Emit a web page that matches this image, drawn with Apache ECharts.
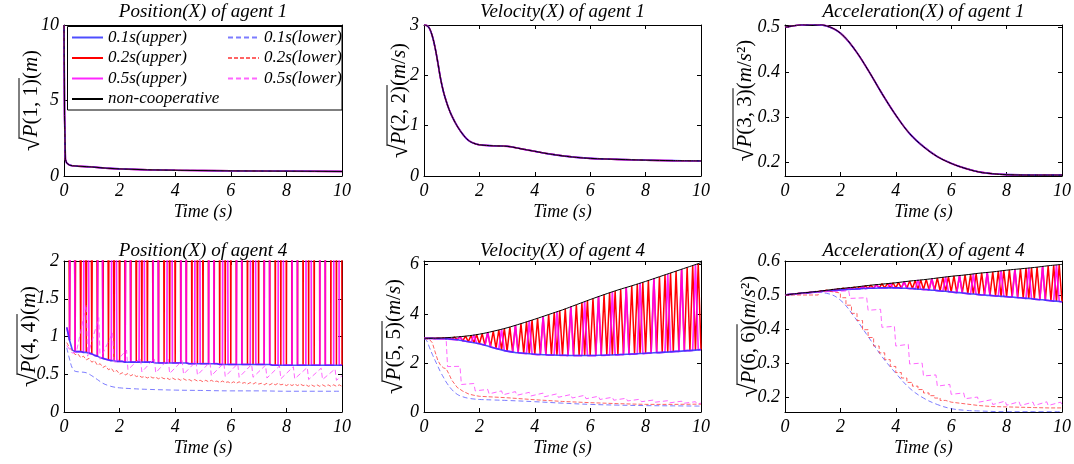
<!DOCTYPE html>
<html><head><meta charset="utf-8">
<script src="https://cdn.jsdelivr.net/npm/echarts@6/dist/echarts.min.js"></script>
<style>html,body{margin:0;padding:0;background:#fff}#c{width:1074px;height:464px}</style>
</head><body><div id="c"></div>
<script>
// ---------------- DATA ----------------
const titles = ['Position(X) of agent 1','Velocity(X) of agent 1','Acceleration(X) of agent 1',
                'Position(X) of agent 4','Velocity(X) of agent 4','Acceleration(X) of agent 4'];
const xTickVals = [0,2,4,6,8,10];
const yTickVals = [[0,5,10],[0,1,2,3],[0.2,0.3,0.4,0.5],[0,0.5,1,1.5,2],[0,2,4,6],[0.2,0.3,0.4,0.5,0.6]];
const yRanges = [[0,10],[0,3],[0.17,0.505],[0,2],[0,6.15],[0.156,0.6]];
const upperNames = ['0.1s(upper)','0.2s(upper)','0.5s(upper)','non-cooperative'];
const lowerNames = ['0.1s(lower)','0.2s(lower)','0.5s(lower)'];

// agent 1 (all strategies coincide)
const pos1T = [0,0.02,0.05,0.1,0.15,0.2,0.3,0.5,0.8,1.0,1.5,2,3,4,5,6,7,8,9,10];
const pos1V = [10,4,1.1,0.85,0.76,0.72,0.68,0.65,0.62,0.6,0.52,0.47,0.41,0.38,0.36,0.34,0.33,0.32,0.31,0.3];
const vel1T = [0,0.1,0.2,0.3,0.4,0.5,0.6,0.7,0.8,0.9,1.0,1.2,1.4,1.6,1.8,2.0,2.5,3.0,3.5,4,4.5,5,5.5,6,7,8,9,10];
const vel1V = [3.0,2.99,2.93,2.78,2.55,2.25,1.93,1.68,1.49,1.33,1.2,0.99,0.83,0.71,0.65,0.62,0.6,0.59,0.54,0.49,0.44,0.4,0.37,0.35,0.33,0.315,0.305,0.30];
const acc1T = [0,0.5,1,1.5,2,2.5,3,3.5,4,4.5,5,5.5,6,6.5,7,7.5,8,9,10];
const acc1V = [0.5,0.505,0.507,0.503,0.487,0.452,0.405,0.353,0.305,0.264,0.235,0.213,0.198,0.187,0.179,0.175,0.173,0.172,0.172];

// agent 4 - position (samples t = 0.1 ... 10.0)
const pos4Up01 = [1.12,0.95,0.82,0.80,0.80,0.80,0.79,0.79,0.78,0.77,
 0.75,0.74,0.72,0.71,0.70,0.69,0.68,0.68,0.67,0.67,
 0.67,0.66,0.66,0.66,0.66,0.66,0.66,0.66,0.66,0.66,
 0.66,0.66,0.65,0.65,0.65,0.65,0.65,0.65,0.65,0.65,
 0.65,0.65,0.65,0.65,0.64,0.64,0.64,0.64,0.64,0.64,
 0.64,0.64,0.64,0.64,0.64,0.63,0.63,0.63,0.63,0.63,
 0.63,0.63,0.63,0.63,0.63,0.63,0.63,0.63,0.63,0.63,
 0.63,0.63,0.63,0.63,0.62,0.62,0.62,0.62,0.62,0.62,
 0.62,0.62,0.62,0.62,0.62,0.62,0.62,0.62,0.62,0.62,
 0.62,0.62,0.62,0.62,0.62,0.62,0.62,0.62,0.62,0.62];
const pos4Up02Peaks = [7.6,7.9,8.3,8.6,8.9,9.3,9.6,9.9,10.3,10.6,10.9,11.3,11.6,11.9,12.3,12.6,12.9,13.3,13.6,13.9,
 14.3,14.6,14.9,15.3,15.6,15.9,16.3,16.6,16.9,17.3,17.6,17.9,18.3,18.6,18.9,19.3,19.6,19.9,20.3,20.6,
 20.9,21.3,21.6,21.9,22.3,22.6,22.9,23.3,23.6,23.9];
const pos4Up05Peaks = [9.2,10.1,11.0,11.9,12.8,13.7,14.6,15.5,16.4,17.3,18.2,19.1,20.0,20.9,21.8,22.7,23.6,24.5,25.4,26.3];
const pos4Lo01T = [0.1,0.2,0.3,0.4,0.6,0.8,1.0,1.2,1.4,1.6,1.8,2.0,2.4,3,4,5,6,7,8,9,10];
const pos4Lo01V = [0.85,0.70,0.58,0.54,0.53,0.52,0.48,0.43,0.38,0.35,0.33,0.32,0.31,0.30,0.29,0.285,0.28,0.28,0.275,0.275,0.275];
const pos4Lo02 = [0.92,0.85,0.81,0.76,0.77,0.72,0.74,0.69,0.71,0.66,
 0.68,0.62,0.64,0.59,0.61,0.56,0.58,0.53,0.55,0.50,
 0.52,0.49,0.51,0.48,0.50,0.47,0.48,0.46,0.47,0.45,
 0.47,0.45,0.46,0.44,0.46,0.44,0.45,0.43,0.45,0.43,
 0.44,0.42,0.44,0.42,0.43,0.41,0.43,0.41,0.42,0.40,
 0.42,0.40,0.42,0.40,0.41,0.39,0.41,0.39,0.40,0.38,
 0.40,0.38,0.40,0.38,0.39,0.37,0.39,0.37,0.39,0.37,
 0.38,0.36,0.38,0.36,0.38,0.36,0.38,0.36,0.37,0.35,
 0.37,0.35,0.37,0.35,0.37,0.35,0.36,0.34,0.36,0.34,
 0.36,0.34,0.36,0.34,0.36,0.34,0.36,0.34,0.36,0.34];
const pos4Lo05T = [0.1,0.3,0.45,0.8,0.85,1.25,1.3,1.75,1.8,2.25,2.3,2.75,2.8,3.25,3.3,3.75,3.8,4.25,4.3,4.75,4.8,
 5.25,5.3,5.75,5.8,6.25,6.3,6.75,6.8,7.25,7.3,7.75,7.8,8.25,8.3,8.75,8.8,9.25,9.3,9.75,9.8,10];
const pos4Lo05V = [0.88,0.78,0.80,1.42,0.74,1.25,0.70,1.05,0.64,0.82,0.56,0.72,0.53,0.71,0.52,0.70,0.51,0.68,0.50,0.67,0.49,
 0.66,0.48,0.65,0.47,0.64,0.46,0.63,0.46,0.62,0.45,0.61,0.44,0.60,0.44,0.59,0.43,0.58,0.43,0.57,0.42,0.48];

// agent 4 - velocity (samples t = 0.0 ... 10.0)
const vel4Up01 = [3.00,3.00,3.00,3.00,2.99,2.99,2.99,2.98,2.98,2.97,
 2.96,2.95,2.94,2.92,2.90,2.88,2.86,2.84,2.82,2.80,
 2.78,2.75,2.72,2.69,2.65,2.62,2.59,2.56,2.53,2.50,
 2.48,2.46,2.44,2.42,2.41,2.40,2.39,2.38,2.37,2.36,
 2.35,2.34,2.34,2.33,2.33,2.32,2.32,2.32,2.31,2.31,
 2.31,2.31,2.30,2.30,2.30,2.30,2.30,2.30,2.30,2.30,
 2.30,2.30,2.30,2.31,2.31,2.31,2.32,2.32,2.32,2.33,
 2.33,2.34,2.34,2.35,2.35,2.36,2.36,2.37,2.38,2.38,
 2.39,2.40,2.40,2.41,2.42,2.42,2.43,2.44,2.44,2.45,
 2.46,2.47,2.47,2.48,2.49,2.50,2.50,2.51,2.52,2.53,2.54];
const vel4Up02Peaks = [3.00,3.00,3.01,3.02,3.03,3.05,3.07,3.09,3.12,3.15,3.19,3.24,3.29,3.34,3.40,3.46,3.53,3.60,3.67,3.74,
 3.82,3.89,3.97,4.05,4.12,4.20,4.29,4.37,4.45,4.54,4.62,4.70,4.78,4.86,4.93,5.00,5.07,5.14,5.21,5.28,
 5.36,5.44,5.51,5.59,5.66,5.74,5.81,5.89,5.97,6.04];
const vel4Up05Peaks = [3.00,3.02,3.07,3.14,3.24,3.37,3.53,3.71,3.89,4.08,4.29,4.50,4.70,4.89,5.07,5.25,5.44,5.62,5.81,6.00];
const tHalf = [0,0.5,1,1.5,2,2.5,3,3.5,4,4.5,5,5.5,6,6.5,7,7.5,8,8.5,9,9.5,10];
const vel4NonCoop = [3.00,3.01,3.04,3.09,3.17,3.29,3.43,3.60,3.78,3.97,4.16,4.37,4.58,4.78,4.97,5.14,5.32,5.51,5.70,5.89,6.08];
const vel4Lo01T = [0,0.1,0.2,0.3,0.4,0.5,0.6,0.7,0.8,1.0,1.2,1.4,1.6,1.8,2.0,2.5,3,4,5,6,7,8,9,10];
const vel4Lo01V = [3.0,2.9,2.62,2.35,2.1,1.86,1.62,1.42,1.22,0.92,0.72,0.62,0.56,0.53,0.51,0.49,0.47,0.42,0.36,0.31,0.28,0.26,0.25,0.24];
const vel4Lo02T = [0,0.2,0.3,0.4,0.5,0.6,0.7,0.8,0.9,1.0,1.1,1.2,1.4,1.6,1.8,2.0,2.5,3,4,5,6,7,8,9,10];
const vel4Lo02V = [3.0,2.95,2.82,2.45,2.1,1.9,1.8,1.76,1.55,1.3,1.15,1.0,0.85,0.74,0.68,0.64,0.61,0.58,0.5,0.43,0.38,0.34,0.31,0.31,0.32];
const vel4Lo05T = [0,0.8,0.85,1.3,1.35,1.8,1.85,2.3,2.35,2.8,2.85,3.3,3.35,3.8,3.85,4.3,4.35,4.8,4.85,5.3,5.35,5.8,5.85,
 6.3,6.35,6.8,6.85,7.3,7.35,7.8,7.85,8.3,8.35,8.8,8.85,9.3,9.35,9.8,9.85,10];
const vel4Lo05V = [3.0,2.96,1.85,1.86,1.12,1.16,0.86,0.92,0.74,0.86,0.70,0.83,0.68,0.80,0.65,0.77,0.62,0.74,0.60,0.71,0.57,0.68,0.54,
 0.64,0.51,0.60,0.48,0.56,0.45,0.52,0.42,0.49,0.40,0.46,0.37,0.44,0.35,0.42,0.33,0.36];

// agent 4 - acceleration (samples t = 0.0 ... 10.0)
const acc4Up01 = [.500,.501,.502,.502,.503,.504,.505,.506,.506,.507,
 .508,.509,.509,.510,.511,.511,.512,.513,.513,.514,
 .515,.515,.516,.516,.517,.517,.518,.518,.519,.519,
 .520,.520,.520,.520,.521,.521,.521,.521,.521,.521,
 .521,.521,.520,.520,.520,.519,.519,.518,.517,.517,
 .516,.516,.515,.514,.514,.513,.512,.511,.511,.510,
 .509,.508,.507,.507,.506,.505,.504,.503,.503,.502,
 .501,.500,.500,.499,.499,.498,.497,.497,.496,.496,
 .495,.494,.494,.493,.492,.492,.491,.490,.490,.489,
 .488,.487,.486,.486,.485,.484,.483,.482,.482,.481,.480];
const acc4Up02Peaks = [.501,.503,.505,.507,.508,.510,.512,.514,.516,.518,.520,.522,.523,.525,.527,.529,.531,.533,.534,.536,
 .537,.539,.541,.543,.544,.546,.548,.550,.552,.554,.556,.557,.559,.561,.563,.565,.566,.568,.570,.572,
 .574,.575,.577,.579,.580,.582,.584,.586,.587,.589];
const acc4Up05Peaks = [.503,.507,.512,.516,.521,.525,.530,.535,.539,.544,.548,.553,.558,.562,.566,.571,.575,.580,.584,.588];
const acc4NonCoop = [.500,.505,.509,.514,.519,.523,.528,.532,.536,.541,.545,.550,.555,.559,.564,.568,.573,.577,.581,.586,.590];
const acc4Lo01T = [0,1.0,1.5,2.0,2.5,3.0,3.5,4.0,4.5,5.0,5.5,6.0,6.5,7,8,9,10];
const acc4Lo01V = [0.5,0.508,0.505,0.485,0.436,0.378,0.319,0.27,0.226,0.197,0.178,0.166,0.161,0.159,0.157,0.157,0.157];
const acc4Lo02T = [0,1.2,1.6,2.0,2.2,2.4,2.6,2.8,3.0,3.2,3.4,3.6,3.8,4.0,4.2,4.4,4.6,4.8,5.0,5.2,5.4,5.6,5.8,6.0,6.5,7,7.5,8,8.5,9,9.5,10];
const acc4Lo02V = [0.5,0.511,0.506,0.492,0.47,0.446,0.425,0.398,0.375,0.35,0.33,0.31,0.29,0.272,0.256,0.243,0.232,0.222,0.212,0.204,0.197,0.19,0.185,0.18,0.175,0.172,0.171,0.17,0.169,0.168,0.168,0.167];
const acc4Lo05T = [0,1.0,2.3,2.35,2.95,3.0,3.45,3.5,3.95,4.0,4.45,4.5,4.95,5.0,5.45,5.5,5.95,6.0,6.45,6.5,6.95,7.0,7.45,7.5,7.95,8.0,8.45,8.5,8.95,9.0,9.45,9.5,9.95,10];
const acc4Lo05V = [0.5,0.508,0.512,0.49,0.492,0.455,0.458,0.405,0.408,0.35,0.355,0.297,0.3,0.262,0.265,0.232,0.237,0.208,0.212,0.195,0.2,0.185,0.192,0.178,0.188,0.176,0.186,0.175,0.185,0.175,0.186,0.175,0.185,0.178];

// ---------------- BUILD ----------------
const FF = 'Liberation Serif';
const grids = [
  {left:64, top:25, width:278, height:151}, {left:424, top:25, width:277, height:151}, {left:785, top:25, width:277, height:151},
  {left:64, top:261, width:278, height:151}, {left:424, top:261, width:277, height:151}, {left:785, top:261, width:277, height:151}
];
const ST = {
  blueU:{color:'#2f2fff', width:1.6, opacity:0.85},
  redU:{color:'#ff0000', width:1.5},
  magU:{color:'#ff00ff', width:1.7, opacity:0.85},
  blueL:{color:'#5050ff', width:1, type:[5,3], opacity:0.75},
  redL:{color:'#ff3030', width:1, type:[4,2], opacity:0.75},
  magL:{color:'#ff40ff', width:1, type:[5,3], opacity:0.8},
  black:{color:'#000000', width:1}
};
const pair = (T,V) => T.map((t,i)=>[t,V[i]]);
const t101 = Array.from({length:101},(_,i)=>i/10);
const t100 = Array.from({length:100},(_,i)=>(i+1)/10);
function spiky(times, base, peaks, idx){
  const out = times.map((t,i)=>[t, base[i]]);
  idx.forEach((j,k)=>{ out[j] = [times[j], peaks[k]]; });
  return out;
}
const idxOdd = []; for (let j=1;j<101;j+=2) idxOdd.push(j);
const idxHalf = []; for (let j=3;j<101;j+=5) idxHalf.push(j);
const idxEvenP = []; for (let j=0;j<100;j+=2) idxEvenP.push(j);
const idxHalfP = []; for (let j=2;j<100;j+=5) idxHalfP.push(j);

function L(name, g, data, st, extra){
  return Object.assign({type:'line', name, xAxisIndex:2*g, yAxisIndex:2*g, data, symbol:'none', showSymbol:false,
    silent:true, animation:false, clip:true, itemStyle:{color:st.color}, lineStyle:Object.assign({},st),
    emphasis:{disabled:true}}, extra||{});
}
const SM = {smooth:0.4};
const series = [];
// agent 1 panels
[[pair(pos1T,pos1V),false],[pair(vel1T,vel1V),true],[pair(acc1T,acc1V),true]].forEach(([d,sm],g)=>{
  const ex = sm ? SM : {};
  series.push(L('0.2s(upper)',g,d,ST.redU,ex), L('0.5s(upper)',g,d,ST.magU,ex), L('0.1s(upper)',g,d,ST.blueU,ex),
    L('0.1s(lower)',g,d,ST.blueL,ex), L('0.2s(lower)',g,d,ST.redL,ex), L('0.5s(lower)',g,d,ST.magL,ex),
    L('non-cooperative',g,d,ST.black,ex));
});
// agent 4 position
series.push(
  L('0.2s(upper)',3,spiky(t100,pos4Up01,pos4Up02Peaks,idxEvenP),ST.redU),
  L('0.5s(upper)',3,spiky(t100,pos4Up01,pos4Up05Peaks,idxHalfP),ST.magU),
  L('0.1s(upper)',3,pair(t100,pos4Up01),ST.blueU),
  L('0.1s(lower)',3,pair(pos4Lo01T,pos4Lo01V),ST.blueL,SM),
  L('0.2s(lower)',3,pair(t100,pos4Lo02),ST.redL),
  L('0.5s(lower)',3,pair(pos4Lo05T,pos4Lo05V),ST.magL)
);
// agent 4 velocity
series.push(
  L('0.2s(upper)',4,spiky(t101,vel4Up01,vel4Up02Peaks,idxOdd),ST.redU),
  L('0.5s(upper)',4,spiky(t101,vel4Up01,vel4Up05Peaks,idxHalf),ST.magU),
  L('0.1s(upper)',4,pair(t101,vel4Up01),ST.blueU),
  L('0.1s(lower)',4,pair(vel4Lo01T,vel4Lo01V),ST.blueL,SM),
  L('0.2s(lower)',4,pair(vel4Lo02T,vel4Lo02V),ST.redL),
  L('0.5s(lower)',4,pair(vel4Lo05T,vel4Lo05V),ST.magL),
  L('non-cooperative',4,pair(tHalf,vel4NonCoop),ST.black,SM)
);
// agent 4 acceleration
series.push(
  L('0.2s(upper)',5,spiky(t101,acc4Up01,acc4Up02Peaks,idxOdd),ST.redU),
  L('0.5s(upper)',5,spiky(t101,acc4Up01,acc4Up05Peaks,idxHalf),ST.magU),
  L('0.1s(upper)',5,pair(t101,acc4Up01),ST.blueU),
  L('0.1s(lower)',5,pair(acc4Lo01T,acc4Lo01V),ST.blueL,SM),
  L('0.2s(lower)',5,pair(acc4Lo02T,acc4Lo02V),ST.redL,{step:'end'}),
  L('0.5s(lower)',5,pair(acc4Lo05T,acc4Lo05V),ST.magL),
  L('non-cooperative',5,pair(tHalf,acc4NonCoop),ST.black,SM)
);

const labelFont = {color:'#000', fontFamily:FF, fontStyle:'italic', fontSize:18};
const axLine = {show:true, onZero:false, lineStyle:{color:'#000', width:1}};
const xAxes = [], yAxes = [];
grids.forEach((gr,g)=>{
  const tick = {show:true, inside:true, length:4, lineStyle:{color:'#000', width:1}, customValues:xTickVals};
  xAxes.push({gridIndex:g, type:'value', min:0, max:10, position:'bottom', axisLine:axLine, axisTick:tick,
    axisLabel:Object.assign({show:true, margin:6, customValues:xTickVals}, labelFont), splitLine:{show:false},
    name:'Time (s)', nameLocation:'middle', nameGap:27,
    nameTextStyle:{color:'#000', fontFamily:FF, fontStyle:'italic', fontSize:18}});
  xAxes.push({gridIndex:g, type:'value', min:0, max:10, position:'top', axisLine:axLine, axisTick:tick,
    axisLabel:{show:false, customValues:xTickVals}, splitLine:{show:false}});
  const yt = yTickVals[g];
  const ytick = {show:true, inside:true, length:4, lineStyle:{color:'#000', width:1}, customValues:yt};
  yAxes.push({gridIndex:g, type:'value', min:yRanges[g][0], max:yRanges[g][1], position:'left', axisLine:axLine,
    axisTick:ytick, axisLabel:Object.assign({show:true, margin:5, customValues:yt}, labelFont), splitLine:{show:false}});
  yAxes.push({gridIndex:g, type:'value', min:yRanges[g][0], max:yRanges[g][1], position:'right', axisLine:axLine,
    axisTick:ytick, axisLabel:{show:false, customValues:yt}, splitLine:{show:false}});
});

// text measuring for the sqrt label overline
const mctx = document.createElement('canvas').getContext('2d');
function tw(s, font){ mctx.font = font; return mctx.measureText(s).width; }
function yLabel(cx, cy, k, unit){
  const fs = 21, rfs = 25;
  const fN = fs + 'px "' + FF + '"', fI = 'italic ' + fN;
  const wR = tw('\u221A', rfs + 'px "' + FF + '"');
  const arg = '(' + k + ', ' + k + ')';
  const wP = tw('P', fI) + tw(arg, fN);
  let wU = 0; unit.forEach(([s,it])=>{ wU += tw(s, it ? fI : fN); });
  const total = wR + wP + wU, x0 = -total/2;
  const rich = '{i|P}{n|' + arg + '}' + unit.map(([s,it])=>'{' + (it?'i':'n') + '|' + s + '}').join('');
  const ov = Math.round(fs*0.56);
  return {type:'group', x:cx, y:cy, rotation:Math.PI/2, silent:true, children:[
    {type:'text', x:x0, y:1, style:{text:'\u221A', font: rfs + 'px "' + FF + '"', fill:'#000',
      align:'left', verticalAlign:'middle', textAlign:'left', textVerticalAlign:'middle'}},
    {type:'text', x:x0+wR, y:0, style:{text:rich, fill:'#000', align:'left', verticalAlign:'middle', textAlign:'left', textVerticalAlign:'middle',
      rich:{i:{fontStyle:'italic', fontSize:fs, fontFamily:FF, fill:'#000'}, n:{fontSize:fs, fontFamily:FF, fill:'#000'}}}},
    {type:'line', shape:{x1:x0+wR-1.5, y1:-ov, x2:x0+wR+wP+1, y2:-ov}, style:{stroke:'#000', lineWidth:1}}
  ]};
}
const unitM = [['(',0],['m',1],[')',0]];
const unitMS = [['(',0],['m',1],['/',0],['s',1],[')',0]];
const unitMS2 = [['(',0],['m',1],['/',0],['s',1],['\u00B2)',0]];
const graphics = [];
const labelX = [31, 399, 745, 29, 394, 749];
const units = [unitM, unitMS, unitMS2, unitM, unitMS, unitMS2];
grids.forEach((gr,g)=>{
  graphics.push({type:'text', x: gr.left + gr.width/2, y: g<3 ? 12 : 251, silent:true,
    style:{text:titles[g], font:'italic 19px "' + FF + '"', fill:'#000', align:'center', verticalAlign:'middle',
      textAlign:'center', textVerticalAlign:'middle'}});
  graphics.push(yLabel(labelX[g], gr.top + gr.height/2, g+1, units[g]));
});
graphics.push({type:'rect', z:5, silent:true, shape:{x:67.5, y:26.5, width:274.5, height:83.5},
  style:{fill:'#fff', stroke:'#000', lineWidth:1}});

const legendText = {fontFamily:FF, fontStyle:'italic', fontSize:17, color:'#000', lineHeight:17};
const legendCommon = {orient:'vertical', top:29, itemWidth:31, itemHeight:14, itemGap:3.5, padding:0,
  selectedMode:false, z:10, itemStyle:{opacity:0}, textStyle:legendText};
const option = {
  animation:false,
  backgroundColor:'#fff',
  grid: grids.map(g=>Object.assign({show:false, containLabel:false, outerBoundsMode:'none'}, g)),
  xAxis:xAxes, yAxis:yAxes,
  legend:[
    Object.assign({left:71, data:upperNames}, legendCommon),
    Object.assign({left:227, data:lowerNames}, legendCommon)
  ],
  graphic:{elements:graphics},
  series
};
const chart = echarts.init(document.getElementById('c'), null, {renderer:'canvas'});
chart.setOption(option);
</script></body></html>
